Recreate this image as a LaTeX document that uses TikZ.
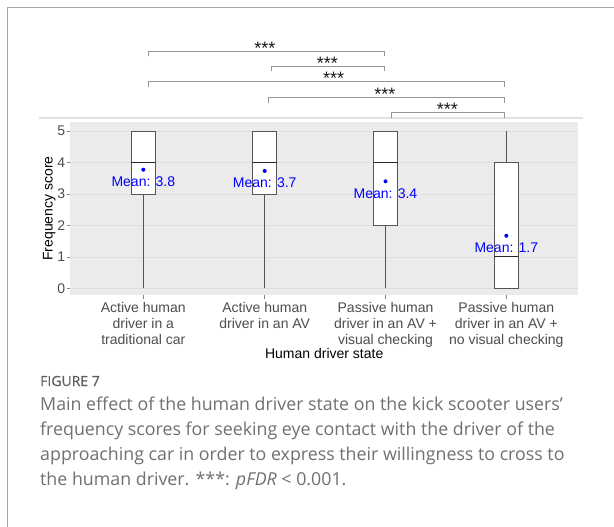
\documentclass[tikz,border=0pt]{standalone}
\usepackage{fontspec}
\setmainfont{Liberation Sans}
\newfontfamily\capfont{Open Sans}
\newfontfamily\capbold[FakeBold=0.6]{Open Sans}
\definecolor{panelbg}{RGB}{235,235,235}
\definecolor{gridc}{RGB}{222,222,222}
\definecolor{framec}{RGB}{165,165,165}
\definecolor{sepc}{RGB}{225,225,225}
\definecolor{boxc}{RGB}{85,85,85}
\definecolor{medc}{RGB}{40,40,40}
\definecolor{tickc}{RGB}{77,77,77}
\definecolor{brc}{RGB}{150,150,150}
\definecolor{capc}{RGB}{112,112,112}
\definecolor{meanc}{RGB}{0,0,255}
\tikzset{
  plotfont/.style={font=\fontsize{14}{16}\selectfont},
  ticklab/.style={plotfont, text=tickc, inner sep=0pt},
  xlab/.style={ticklab, align=center, anchor=north},
  meanlab/.style={plotfont, text=meanc, inner sep=0pt},
  boxline/.style={draw=boxc, line width=0.7pt},
  medline/.style={draw=medc, line width=1.2pt},
  bracket/.style={draw=brc, line width=0.7pt},
  starlab/.style={font=\fontsize{18}{20}\selectfont, text=black!90, inner sep=0pt, anchor=base, text height=12pt, text depth=0pt},
  gridline/.style={draw=gridc, line width=0.6pt},
  tickmark/.style={draw=tickc!70, line width=0.6pt},
}
\newcommand{\boxplot}[9]{% name, center, lo, q1, med, q3, hi, mean, label
  \draw[boxline] (#2,#3) -- (#2,#4);
  \draw[boxline] (#2,#6) -- (#2,#7);
  \filldraw[fill=white, boxline] (#2-12,#4) rectangle (#2+12,#6);
  \draw[medline] (#2-12,#5) -- (#2+12,#5);
  \fill[meanc] (#2,#8) circle (2pt);
  \node[meanlab, yshift=-12pt] (#1) at (#2,#8) {Mean: #9};
}
\begin{document}
\begin{tikzpicture}[x=1pt,y=-1pt]
\useasboundingbox (0,0) rectangle (614,527);
\fill[white] (0,0) rectangle (614,527);
% frame
\draw[framec, line width=1pt] (7.3,527) -- (7.3,7.3) -- (614,7.3);
% separator
\draw[sepc, line width=1.5pt] (38.7,118) -- (582.7,118);
% panel
\fill[panelbg] (70,122) rectangle (578.3,295);
\begin{scope}[shift={(0,288.3)}, y=31.46pt]
  \foreach \v in {0,...,5}{
    \draw[gridline] (70,\v) -- (578.3,\v);
    \draw[tickmark] (66.5,\v) -- (70,\v);
    \node[ticklab, anchor=east] (yt\v) at (65.3,\v) {\v};
  }
  \foreach \c in {143.3,264.7,385.5,506.3}{
    \draw[tickmark] (\c,-0.213) -- ++(0,-3.5pt);
  }
  \boxplot{m1}{143.3}{0}{3}{4}{5}{5}{3.77}{3.8}
  \boxplot{m2}{264.7}{0}{3}{4}{5}{5}{3.73}{3.7}
  \boxplot{m3}{385.5}{0}{2}{4}{5}{5}{3.40}{3.4}
  \boxplot{m4}{506.3}{0}{0}{1}{4}{5}{1.67}{1.7}
\end{scope}
% x tick labels
\node[xlab] (x1) at (143.3,302) {Active human\\driver in a\\traditional car};
\node[xlab] (x2) at (264.7,302) {Active human\\driver in an AV};
\node[xlab] (x3) at (385.5,302) {Passive human\\driver in an AV +\\visual checking};
\node[xlab] (x4) at (506.3,302) {Passive human\\driver in an AV +\\no visual checking};
% axis titles
\node[plotfont, anchor=base, inner sep=0pt] (xt) at (324.2,358.5) {Human driver state};
\node[plotfont, rotate=90, inner sep=0pt] (yt) at (49.3,208.5) {Frequency score};
% brackets
\coordinate (a1) at (148.3,51);   \coordinate (a2) at (384.3,51);
\coordinate (b1) at (271.7,66);   \coordinate (b2) at (384.3,66);
\coordinate (c1) at (148.3,81.7); \coordinate (c2) at (504.3,81.7);
\coordinate (d1) at (268.3,97.7); \coordinate (d2) at (504.3,97.7);
\coordinate (e1) at (391.7,112.7);\coordinate (e2) at (504.3,112.7);
\foreach \b in {a,b,c,d,e}{
  \draw[bracket] ([yshift=-5.5pt]\b1) -- (\b1) -- (\b2) -- ([yshift=-5.5pt]\b2);
}
\node[starlab] (sa) at (265,55) {***};
\node[starlab] (sb) at (327.5,69.5) {***};
\node[starlab] (sc) at (333.6,84.5) {***};
\node[starlab] (sd) at (385,101) {***};
\node[starlab] (se) at (447.3,116) {***};
% caption
\node[anchor=west, inner sep=0pt, text=capc!85!black, font=\capbold\fontsize{14}{16}\selectfont] (fig) at (40,381) {FIGURE 7};
\node[anchor=north west, inner sep=0pt, align=left, text=capc, font=\capfont\fontsize{17.8}{25}\selectfont] (cap) at (40,397)
{Main effect of the human driver state on the kick scooter users’\\
frequency scores for seeking eye contact with the driver of the\\
approaching car in order to express their willingness to cross to\\
the human driver. ***: \textit{pFDR} < 0.001.};
\end{tikzpicture}
\end{document}
